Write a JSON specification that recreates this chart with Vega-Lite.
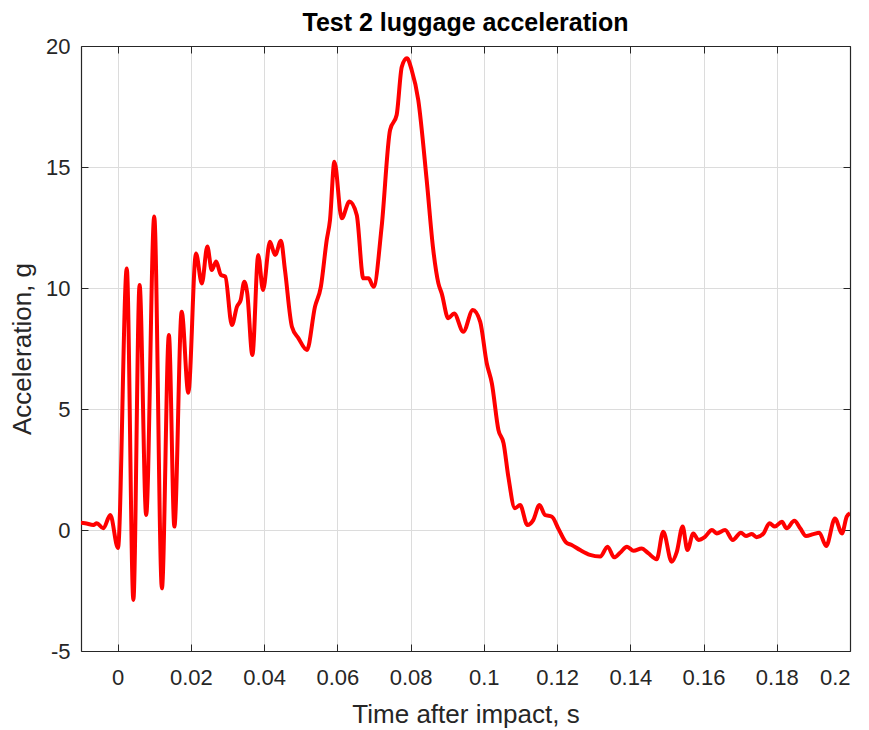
{
  "$schema": "https://vega.github.io/schema/vega-lite/v6.json",
  "width": 769,
  "height": 605,
  "autosize": {"type": "none"},
  "padding": {"left": 81, "top": 46, "right": 19, "bottom": 79},
  "background": "white",
  "title": {
    "text": "Test 2 luggage acceleration",
    "font": "Liberation Sans",
    "fontSize": 25,
    "fontWeight": "bold",
    "color": "#000000",
    "offset": -1,
    "anchor": "middle"
  },
  "config": {
    "view": {"stroke": null},
    "font": "Liberation Sans",
    "axis": {
      "labelFont": "Liberation Sans",
      "titleFont": "Liberation Sans",
      "labelColor": "#262626",
      "titleColor": "#262626",
      "titleFontWeight": "normal",
      "domainColor": "#262626",
      "domainWidth": 1.2,
      "tickColor": "#262626",
      "gridColor": "#dcdcdc",
      "gridWidth": 1
    }
  },
  "data": {
    "values": [
      {"t": -0.0101, "a": 0.30}, {"t": -0.0089, "a": 0.28}, {"t": -0.0066, "a": 0.21},
      {"t": -0.0057, "a": 0.28}, {"t": -0.0039, "a": 0.07}, {"t": -0.0020, "a": 0.62},
      {"t": 0.0001, "a": -0.74}, {"t": 0.0025, "a": 10.81}, {"t": 0.0043, "a": -2.89},
      {"t": 0.0060, "a": 10.12}, {"t": 0.0078, "a": 0.62}, {"t": 0.0100, "a": 12.95},
      {"t": 0.0121, "a": -2.41}, {"t": 0.0140, "a": 8.06}, {"t": 0.0155, "a": 0.14},
      {"t": 0.0175, "a": 9.02}, {"t": 0.0193, "a": 5.67}, {"t": 0.0214, "a": 11.43},
      {"t": 0.0230, "a": 10.19}, {"t": 0.0245, "a": 11.71}, {"t": 0.0257, "a": 10.74},
      {"t": 0.0269, "a": 11.09}, {"t": 0.0282, "a": 10.54}, {"t": 0.0294, "a": 10.47},
      {"t": 0.0312, "a": 8.47}, {"t": 0.0326, "a": 9.23}, {"t": 0.0336, "a": 9.50},
      {"t": 0.0346, "a": 10.26}, {"t": 0.0354, "a": 9.78}, {"t": 0.0368, "a": 7.23},
      {"t": 0.0384, "a": 11.36}, {"t": 0.0397, "a": 9.92}, {"t": 0.0416, "a": 11.91},
      {"t": 0.0430, "a": 11.36}, {"t": 0.0446, "a": 11.95}, {"t": 0.0457, "a": 10.74},
      {"t": 0.0476, "a": 8.40}, {"t": 0.0494, "a": 7.92}, {"t": 0.0517, "a": 7.44},
      {"t": 0.0539, "a": 9.23}, {"t": 0.0555, "a": 10.05}, {"t": 0.0571, "a": 11.98},
      {"t": 0.0580, "a": 12.81}, {"t": 0.0592, "a": 15.22}, {"t": 0.0612, "a": 12.88},
      {"t": 0.0633, "a": 13.57}, {"t": 0.0653, "a": 13.02}, {"t": 0.0671, "a": 10.40},
      {"t": 0.0685, "a": 10.40}, {"t": 0.0699, "a": 10.05}, {"t": 0.0721, "a": 12.53},
      {"t": 0.0744, "a": 16.53}, {"t": 0.0762, "a": 17.15}, {"t": 0.0776, "a": 19.14},
      {"t": 0.0790, "a": 19.49}, {"t": 0.0803, "a": 19.01}, {"t": 0.0821, "a": 17.77},
      {"t": 0.0844, "a": 14.46}, {"t": 0.0862, "a": 11.57}, {"t": 0.0876, "a": 10.19},
      {"t": 0.0885, "a": 9.78}, {"t": 0.0903, "a": 8.75}, {"t": 0.0919, "a": 8.95},
      {"t": 0.0944, "a": 8.19}, {"t": 0.0970, "a": 9.09}, {"t": 0.0990, "a": 8.61},
      {"t": 0.1008, "a": 6.89}, {"t": 0.1022, "a": 6.06}, {"t": 0.1040, "a": 4.13},
      {"t": 0.1054, "a": 3.58}, {"t": 0.1067, "a": 2.20}, {"t": 0.1085, "a": 0.90},
      {"t": 0.1099, "a": 1.03}, {"t": 0.1119, "a": 0.21}, {"t": 0.1135, "a": 0.41},
      {"t": 0.1152, "a": 1.03}, {"t": 0.1167, "a": 0.62}, {"t": 0.1186, "a": 0.55},
      {"t": 0.1204, "a": 0.04}, {"t": 0.1225, "a": -0.52}, {"t": 0.1240, "a": -0.62},
      {"t": 0.1263, "a": -0.83}, {"t": 0.1290, "a": -1.03}, {"t": 0.1318, "a": -1.10},
      {"t": 0.1338, "a": -0.69}, {"t": 0.1356, "a": -1.13}, {"t": 0.1372, "a": -0.94},
      {"t": 0.1391, "a": -0.69}, {"t": 0.1409, "a": -0.86}, {"t": 0.1431, "a": -0.76},
      {"t": 0.1449, "a": -0.96}, {"t": 0.1472, "a": -1.21}, {"t": 0.1490, "a": -0.07},
      {"t": 0.1513, "a": -1.31}, {"t": 0.1527, "a": -0.90}, {"t": 0.1543, "a": 0.14},
      {"t": 0.1556, "a": -0.83}, {"t": 0.1572, "a": -0.14}, {"t": 0.1586, "a": -0.41},
      {"t": 0.1604, "a": -0.28}, {"t": 0.1623, "a": 0.00}, {"t": 0.1636, "a": -0.14},
      {"t": 0.1659, "a": 0.00}, {"t": 0.1680, "a": -0.41}, {"t": 0.1702, "a": -0.11},
      {"t": 0.1716, "a": -0.25}, {"t": 0.1732, "a": -0.17}, {"t": 0.1745, "a": -0.30},
      {"t": 0.1764, "a": -0.14}, {"t": 0.1780, "a": 0.28}, {"t": 0.1795, "a": 0.14},
      {"t": 0.1814, "a": 0.34}, {"t": 0.1827, "a": 0.07}, {"t": 0.1848, "a": 0.38},
      {"t": 0.1864, "a": 0.07}, {"t": 0.1880, "a": -0.25}, {"t": 0.1900, "a": -0.17},
      {"t": 0.1916, "a": -0.11}, {"t": 0.1935, "a": -0.66}, {"t": 0.1959, "a": 0.48},
      {"t": 0.1978, "a": -0.14}, {"t": 0.1991, "a": 0.55}, {"t": 0.2000, "a": 0.69}
    ]
  },
  "resolve": {"axis": {"x": "independent", "y": "independent"}},
  "layer": [
    {
      "mark": {"type": "line", "opacity": 0},
      "encoding": {
        "x": {
          "field": "t", "type": "quantitative",
          "scale": {"domain": [-0.01, 0.2], "nice": false, "zero": false},
          "axis": {
            "orient": "top", "labels": false, "title": null, "grid": false,
            "values": [0, 0.02, 0.04, 0.06, 0.08, 0.1, 0.12, 0.14, 0.16, 0.18, 0.2],
            "tickSize": -7
          }
        },
        "y": {
          "field": "a", "type": "quantitative",
          "scale": {"domain": [-5, 20], "nice": false, "zero": false},
          "axis": {
            "orient": "right", "labels": false, "title": null, "grid": false,
            "values": [-5, 0, 5, 10, 15, 20],
            "tickSize": -7
          }
        }
      }
    },
    {
      "mark": {"type": "line", "color": "#ff0000", "strokeWidth": 4, "interpolate": "monotone", "clip": true},
      "encoding": {
        "x": {
          "field": "t", "type": "quantitative",
          "scale": {"domain": [-0.01, 0.2], "nice": false, "zero": false},
          "axis": {
            "orient": "bottom",
            "title": "Time after impact, s",
            "values": [0, 0.02, 0.04, 0.06, 0.08, 0.1, 0.12, 0.14, 0.16, 0.18, 0.2],
            "format": "~g",
            "labelFontSize": 22,
            "labelPadding": 23,
            "tickSize": -7,
            "titleFontSize": 26,
            "titlePadding": 13,
            "grid": true
          }
        },
        "y": {
          "field": "a", "type": "quantitative",
          "scale": {"domain": [-5, 20], "nice": false, "zero": false},
          "axis": {
            "orient": "left",
            "title": "Acceleration, g",
            "values": [-5, 0, 5, 10, 15, 20],
            "labelExpr": "datum.value < 0 ? '-' + abs(datum.value) : datum.label",
            "labelFontSize": 22,
            "labelPadding": 18,
            "tickSize": -7,
            "titleFontSize": 26,
            "titlePadding": 10,
            "grid": true
          }
        }
      }
    }
  ]
}
